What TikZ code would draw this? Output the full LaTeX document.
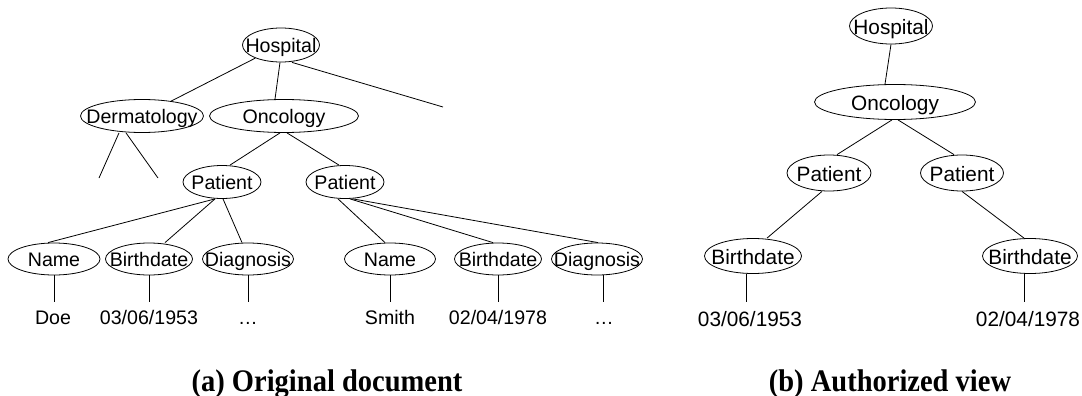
\documentclass[tikz,border=0pt]{standalone}
\usepackage{fontspec,graphicx}
\setmainfont{Liberation Sans}
\newfontfamily\capfont{Liberation Serif}
\usetikzlibrary{shapes}
\newcommand{\etxt}[1]{\makebox[0pt]{#1}}

\begin{document}
\begin{tikzpicture}[x=1pt,y=-1pt,
    elem/.style={draw,ellipse,inner sep=0pt,line width=0.8pt,minimum height=33pt,text height=15.8pt,text depth=0pt,font=\fontsize{19.6}{22}\selectfont},
    elemr/.style={elem,minimum height=36pt,text height=17.2pt,font=\fontsize{20.8}{24}\selectfont},
    leaf/.style={anchor=base,inner xsep=0pt,inner ysep=8pt,text height=14pt,text depth=0pt,font=\fontsize{19.6}{22}\selectfont},
    leafr/.style={leaf,inner ysep=9.5pt,text height=14.5pt,font=\fontsize{20.8}{24}\selectfont},
    link/.style={line width=0.8pt},
    subcap/.style={anchor=base,inner sep=0pt,font=\capfont\bfseries\fontsize{28.5}{30}\selectfont}]
    \useasboundingbox (0,0) rectangle (1082,396);
    % (a) original document
    \node[elem,minimum width=77pt,minimum height=34pt] (h1) at (281,45) {\etxt{Hospital}};
    \node[elem,minimum width=123pt] (derm) at (142,116) {\etxt{Dermatology}};
    \node[elem,minimum width=149pt] (o1) at (284,116) {\etxt{Oncology}};
    \node[elem,minimum width=78pt] (p1) at (222,182) {\etxt{Patient}};
    \node[elem,minimum width=78pt] (p2) at (345,182) {\etxt{Patient}};
    \node[elem,minimum width=92pt,minimum height=32pt] (n1) at (54,259) {\etxt{Name}};
    \node[elem,minimum width=87pt,minimum height=32pt] (b1) at (149,259) {\etxt{Birthdate}};
    \node[elem,minimum width=91pt,minimum height=32pt] (g1) at (248,259) {\etxt{Diagnosis}};
    \node[elem,minimum width=91pt,minimum height=32pt] (n2) at (390,259) {\etxt{Name}};
    \node[elem,minimum width=87pt,minimum height=32pt] (b2) at (498,259) {\etxt{Birthdate}};
    \node[elem,minimum width=91pt,minimum height=32pt] (g2) at (597,259) {\etxt{Diagnosis}};
    \node[leaf] (doe) at (53,324) {Doe};
    \node[leaf] (d1) at (149,324) {03/06/1953};
    \node[leaf] (x1) at (248,324) {…};
    \node[leaf] (smith) at (390,324) {Smith};
    \node[leaf] (d2) at (498,324) {02/04/1978};
    \node[leaf] (x2) at (604,324) {…};
    \coordinate (hx) at (443,107);
    \coordinate (dl) at (99,178);
    \coordinate (dr) at (158,178);
    \draw[link] (h1) -- (derm);
    \draw[link] ([xshift=-1pt]h1.south) -- ([xshift=-9pt]o1.north);
    \draw[link] ([xshift=11pt]h1.south) -- (hx);
    \draw[link] ([xshift=-23pt]derm.south) -- (dl);
    \draw[link] ([xshift=-16pt]derm.south) -- (dr);
    \draw[link] ([xshift=-4pt]o1.south) -- ([xshift=8pt]p1.north);
    \draw[link] ([xshift=3pt]o1.south) -- ([xshift=-6pt]p2.north);
    \draw[link] ([xshift=-7pt]p1.south) -- ([xshift=-6pt]n1.north);
    \draw[link] ([xshift=-7pt]p1.south) -- ([xshift=16pt]b1.north);
    \draw[link] ([xshift=1pt]p1.south) -- ([xshift=-6pt]g1.north);
    \draw[link] ([xshift=-7pt]p2.south) -- ([xshift=-5pt]n2.north);
    \draw[link] ([xshift=5pt]p2.south) -- ([xshift=-5pt]b2.north);
    \draw[link] ([xshift=8pt]p2.south) -- ([xshift=1pt]g2.north);
    \draw[link] (n1.south) -- (n1.south |- doe.north);
    \draw[link] (b1.south) -- (b1.south |- d1.north);
    \draw[link] (g1.south) -- (g1.south |- x1.north);
    \draw[link] (n2.south) -- (n2.south |- smith.north);
    \draw[link] (b2.south) -- (b2.south |- d2.north);
    \draw[link] ([xshift=6pt]g2.south) -- ([xshift=6pt]g2.south |- x2.north);
    % (b) authorized view
    \node[elemr,minimum width=83pt] (h2) at (891,26) {\etxt{Hospital}};
    \node[elemr,minimum width=161pt,minimum height=35pt] (o2) at (895,102) {\etxt{Oncology}};
    \node[elemr,minimum width=84pt] (p3) at (829,173) {\etxt{Patient}};
    \node[elemr,minimum width=83pt] (p4) at (962,173) {\etxt{Patient}};
    \node[elemr,minimum width=97pt,minimum height=35pt] (b3) at (753,256) {\etxt{Birthdate}};
    \node[elemr,minimum width=95pt,minimum height=35pt] (b4) at (1030,256) {\etxt{Birthdate}};
    \node[leafr] (d3) at (750,326) {03/06/1953};
    \node[leafr] (d4) at (1028,326) {02/04/1978};
    \draw[link] (h2.south) -- ([xshift=-10pt]o2.north);
    \draw[link] ([xshift=-3pt]o2.south) -- ([xshift=8pt]p3.north);
    \draw[link] ([xshift=3pt]o2.south) -- ([xshift=-8pt]p4.north);
    \draw[link] ([xshift=-7pt]p3.south) -- ([xshift=14pt]b3.north);
    \draw[link] (p4.south) -- ([xshift=-6pt]b4.north);
    \draw[link] ([xshift=-7pt]b3.south) -- ([xshift=-7pt]b3.south |- d3.north);
    \draw[link] ([xshift=-6pt]b4.south) -- ([xshift=-6pt]b4.south |- d4.north);
    % captions
    \node[subcap] (capa) at (327,391) {\scalebox{1}[1.1]{(a) Original document}};
    \node[subcap] (capb) at (890,391) {\scalebox{1}[1.1]{(b) Authorized view}};
\end{tikzpicture}
\end{document}
